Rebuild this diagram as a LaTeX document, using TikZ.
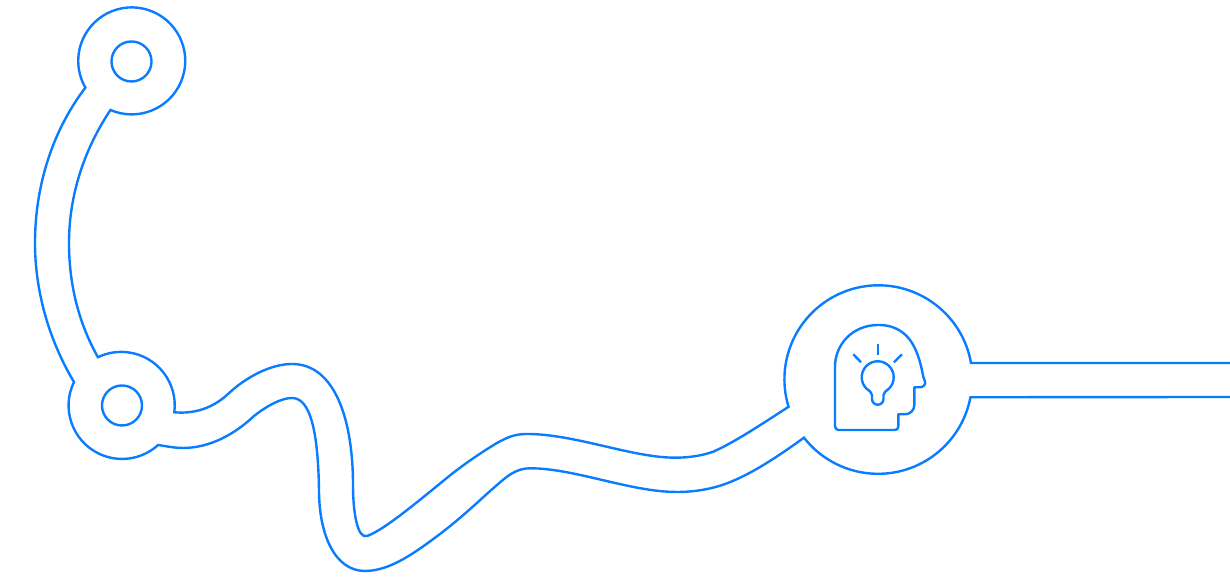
\documentclass[tikz,border=0pt]{standalone}
\definecolor{roadblue}{HTML}{0A7CFF}
\tikzset{
  road/.style={draw=roadblue,line width=.024cm,line join=miter},
  ring/.style={circle,draw=roadblue,line width=.024cm,minimum size=.4cm,inner sep=0,outer sep=0},
}
\begin{document}
\begin{tikzpicture}[x=.01cm,y=.01cm]
\useasboundingbox (0,0) rectangle (1230,577);
\draw[road](1230,214)--(971,214) arc (10:197:94)
 .. controls (762,153) and (735,135) .. (713.3,125.3)
 .. controls (701,121) and (688,119.3) .. (675,119.3)
 .. controls (632,119.3) and (575,143) .. (527,143)
 .. controls (515,143) and (508,140) .. (497,134)
 .. controls (482,125) and (468,115.5) .. (453,104)
 .. controls (425,81.5) and (385,47) .. (367,41)
 .. controls (358,38) and (353,62) .. (353,92)
 .. controls (353,157) and (335,213) .. (292,213)
 .. controls (270,213) and (245,199) .. (228,183)
 .. controls (212,168) and (193,163) .. (174.3,164.7)
 arc (-7.4:115.8:53.5)
 .. controls (78,255) and (69,294) .. (69,334)
 .. controls (69,383) and (85,429) .. (110.5,467)
 arc (246.6:570:53.5)
 .. controls (53,447) and (35,392) .. (35,334)
 .. controls (35,284) and (50,235) .. (74,195)
 arc (154:312.3:53.5)
 .. controls (165,131) and (174,129) .. (183,129)
 .. controls (210,129) and (235,143) .. (254,161)
 .. controls (268,172) and (282,179) .. (292,179)
 .. controls (310,179) and (318,147) .. (319,87)
 .. controls (319,42) and (335,6) .. (365,6)
 .. controls (390,6) and (415,24) .. (443,45.3)
 .. controls (465,62.3) and (483,80) .. (497,92)
 .. controls (507,100.7) and (516,108.7) .. (530,108.7)
 .. controls (575,108.7) and (630,85) .. (677,85)
 .. controls (695,85) and (712,88) .. (727,93.7)
 .. controls (752,103) and (780,122) .. (804,139.3)
 arc (218:349.3:94)--(1230,180);
\node[ring] (topring) at (131.5,515.5) {};
\node[ring] (lowring) at (122,171.5) {};
\draw[road,line join=round](878.3,252)
 .. controls (852,252) and (835,232) .. (835,210.3)--(835,151)
 .. controls (835,148.5) and (836.5,147) .. (838.3,147)--(895,147)
 .. controls (897,147) and (898.3,148.5) .. (898.3,150.3)--(898.3,162.7)--(905,162.7)
 .. controls (910.5,162.7) and (914.3,167) .. (914.3,172)--(914.3,189.7)--(920,189.7)
 .. controls (923.5,189.7) and (926,193) .. (925,195.3)--(923.3,200.3)
 .. controls (919,222) and (912,252) .. (878.3,252)--cycle;
\draw[road](872,178)--(872,182) .. controls (872,185) and (869,186) .. (866.4,188.4)
 arc (225:-45:16) .. controls (886.5,186) and (883.5,185) .. (883.5,182)--(883.5,178)
 arc (0:-180:5.75);
\draw[road](877.7,233)--(877.7,222);
\draw[road](853.3,222.7)--(861,214.7);
\draw[road](902,222.7)--(894,214.7);
\end{tikzpicture}
\end{document}
